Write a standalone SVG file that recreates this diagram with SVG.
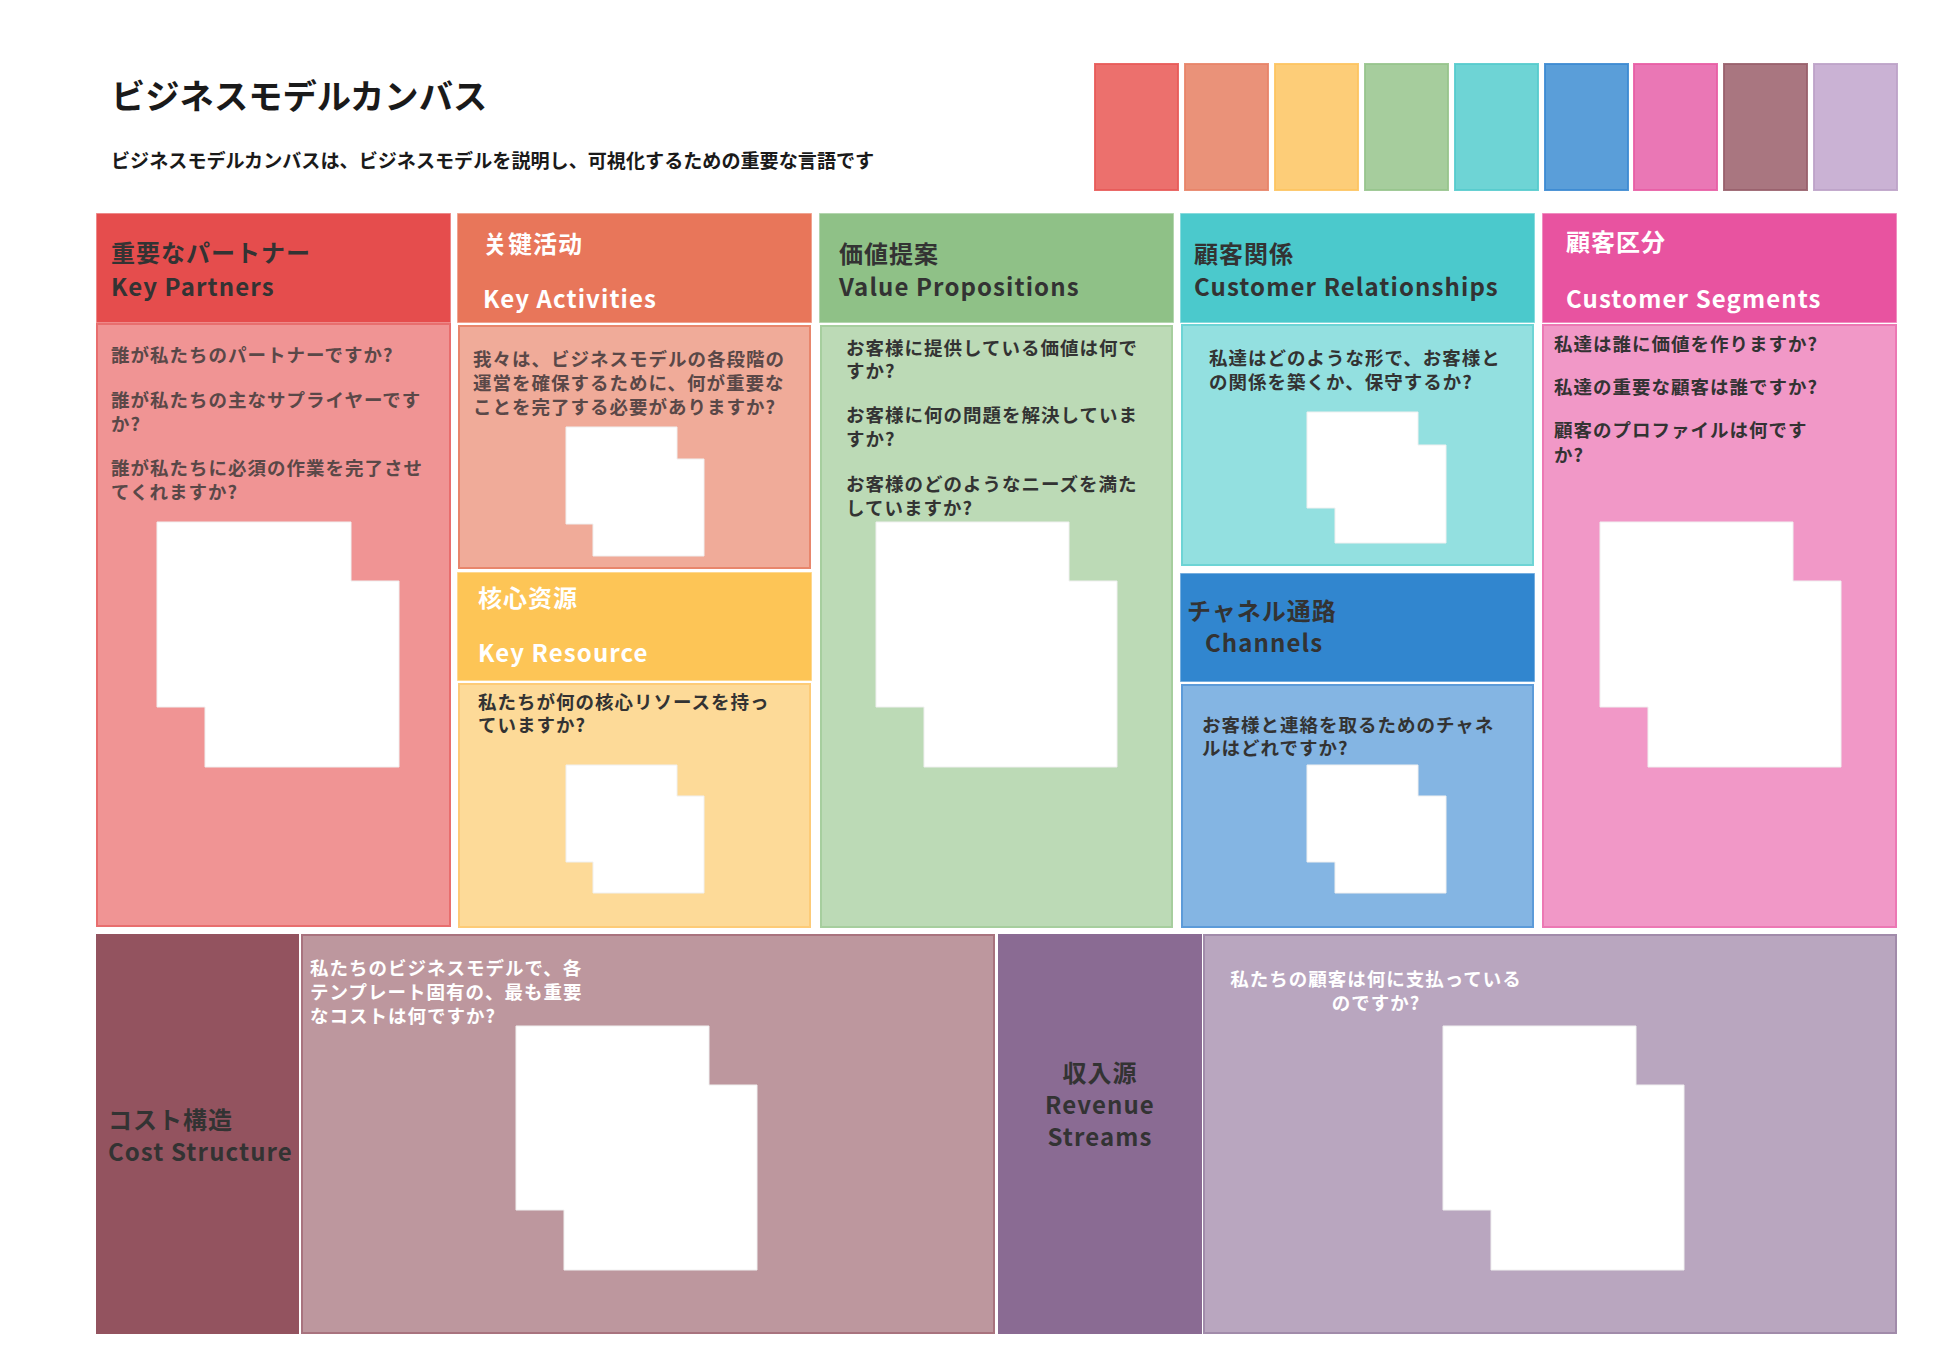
<svg xmlns="http://www.w3.org/2000/svg" width="1934" height="1370" viewBox="0 0 1934 1370">
<style>
text{font-family:"Noto Sans CJK JP","Noto Sans",sans-serif;font-weight:700;dominant-baseline:central}
.h{font-size:24px;letter-spacing:1px}
.l{font-size:24px;letter-spacing:1.1px}
.b{font-size:18.5px;letter-spacing:1px}
.dk{fill:#333333}
.gy{fill:#5a4848}
.wh{fill:#ffffff}
.ph{fill:#ffffff;stroke:#f0f0f0;stroke-width:1}
.hd{stroke:#ffffff;stroke-opacity:0.45;stroke-width:1.5}
.bd{stroke-width:2}
.sw{stroke-width:2;stroke-opacity:0.9}
</style>
<rect width="1934" height="1370" fill="#ffffff"/>

<g id="title">
<text x="111" y="94" font-size="34.3" style="fill:#1a1a1a">ビジネスモデルカンバス</text>
<text x="111" y="160" font-size="19.1" style="fill:#1a1a1a">ビジネスモデルカンバスは、ビジネスモデルを説明し、可視化するための重要な言語です</text>
</g>

<g id="swatches">
<rect class="sw" x="1095" y="64" width="83" height="126" fill="#EC706D" stroke="#E85A58"/>
<rect class="sw" x="1185" y="64" width="83" height="126" fill="#EA9279" stroke="#E88468"/>
<rect class="sw" x="1275" y="64" width="83" height="126" fill="#FDCD78" stroke="#FDC460"/>
<rect class="sw" x="1365" y="64" width="83" height="126" fill="#A6CD9D" stroke="#97C48D"/>
<rect class="sw" x="1455" y="64" width="83" height="126" fill="#6ED4D5" stroke="#55CBCD"/>
<rect class="sw" x="1545" y="64" width="83" height="126" fill="#5A9ED9" stroke="#3C8AD2"/>
<rect class="sw" x="1634" y="64" width="83" height="126" fill="#EA77B5" stroke="#E85DA4"/>
<rect class="sw" x="1724" y="64" width="83" height="126" fill="#A97680" stroke="#98606C"/>
<rect class="sw" x="1814" y="64" width="83" height="126" fill="#CAB2D4" stroke="#BCA2C8"/>
</g>

<g id="key-partners">
<rect class="hd" x="96" y="213" width="355" height="110" fill="#E54D4D"/>
<rect class="bd" x="97" y="324" width="353" height="602" fill="#F09494" stroke="#E86E6E"/>
<text class="h dk" x="111" y="251">重要なパートナー</text>
<text class="l dk" x="111" y="285">Key Partners</text>
<text class="b gy" x="111" y="354">誰が私たちのパートナーですか?</text>
<text class="b gy" x="111" y="399">誰が私たちの主なサプライヤーです</text>
<text class="b gy" x="111" y="423">か?</text>
<text class="b gy" x="111" y="467">誰が私たちに必須の作業を完了させ</text>
<text class="b gy" x="111" y="491">てくれますか?</text>
<path class="ph" d="M157,522 H351 V581 H399 V767 H205 V707 H157 Z"/>
</g>

<g id="key-activities">
<rect class="hd" x="457" y="213" width="355" height="110" fill="#E8765A"/>
<rect class="bd" x="459" y="326" width="351" height="242" fill="#F0AB99" stroke="#E8866C"/>
<text class="h wh" x="483" y="242">关键活动</text>
<text class="l wh" x="483" y="297">Key Activities</text>
<text class="b gy" x="473" y="358">我々は、ビジネスモデルの各段階の</text>
<text class="b gy" x="473" y="382">運営を確保するために、何が重要な</text>
<text class="b gy" x="473" y="406">ことを完了する必要がありますか?</text>
<path class="ph" d="M566,427 H677 V459 H704 V556 H593 V524 H566 Z"/>
</g>

<g id="key-resource">
<rect class="hd" x="457" y="572" width="355" height="109" fill="#FDC556"/>
<rect class="bd" x="459" y="684" width="351" height="243" fill="#FDDA98" stroke="#FDCB77"/>
<text class="h wh" x="478" y="596">核心资源</text>
<text class="l wh" x="478" y="651">Key Resource</text>
<text class="b dk" x="478" y="701">私たちが何の核心リソースを持っ</text>
<text class="b dk" x="478" y="724">ていますか?</text>
<path class="ph" d="M566,765 H677 V796 H704 V893 H593 V862 H566 Z"/>
</g>

<g id="value-propositions">
<rect class="hd" x="819" y="213" width="355" height="110" fill="#8FC187"/>
<rect class="bd" x="821" y="326" width="351" height="601" fill="#BCDAB6" stroke="#A6CE9E"/>
<text class="h dk" x="839" y="252">価値提案</text>
<text class="l dk" x="839" y="285">Value Propositions</text>
<text class="b dk" x="846" y="347">お客様に提供している価値は何で</text>
<text class="b dk" x="846" y="370">すか?</text>
<text class="b dk" x="846" y="414">お客様に何の問題を解決していま</text>
<text class="b dk" x="846" y="438">すか?</text>
<text class="b dk" x="846" y="483">お客様のどのようなニーズを満た</text>
<text class="b dk" x="846" y="507">していますか?</text>
<path class="ph" d="M876,522 H1069 V581 H1117 V767 H924 V707 H876 Z"/>
</g>

<g id="customer-relationships">
<rect class="hd" x="1180" y="213" width="355" height="110" fill="#4BC9CC"/>
<rect class="bd" x="1182" y="325" width="351" height="240" fill="#93E0E0" stroke="#6DD4D5"/>
<text class="h dk" x="1194" y="252">顧客関係</text>
<text class="l dk" x="1194" y="285">Customer Relationships</text>
<text class="b dk" x="1209" y="357">私達はどのような形で、お客様と</text>
<text class="b dk" x="1209" y="381">の関係を築くか、保守するか?</text>
<path class="ph" d="M1307,412 H1418 V445 H1446 V543 H1335 V508 H1307 Z"/>
</g>

<g id="channels">
<rect class="hd" x="1180" y="573" width="355" height="109" fill="#3186CF"/>
<rect class="bd" x="1182" y="685" width="351" height="242" fill="#84B5E3" stroke="#5C9BD9"/>
<text class="h dk" x="1187" y="609">チャネル通路</text>
<text class="l dk" x="1205" y="641">Channels</text>
<text class="b dk" x="1202" y="724">お客様と連絡を取るためのチャネ</text>
<text class="b dk" x="1202" y="747">ルはどれですか?</text>
<path class="ph" d="M1307,765 H1418 V796 H1446 V893 H1335 V862 H1307 Z"/>
</g>

<g id="customer-segments">
<rect class="hd" x="1542" y="213" width="355" height="110" fill="#E853A0"/>
<rect class="bd" x="1543" y="325" width="353" height="602" fill="#F198C7" stroke="#EC78B4"/>
<text class="h wh" x="1566" y="240">顧客区分</text>
<text class="l wh" x="1566" y="297">Customer Segments</text>
<text class="b dk" x="1554" y="343">私達は誰に価値を作りますか?</text>
<text class="b dk" x="1554" y="386">私達の重要な顧客は誰ですか?</text>
<text class="b dk" x="1554" y="429">顧客のプロファイルは何です</text>
<text class="b dk" x="1554" y="454">か?</text>
<path class="ph" d="M1600,522 H1793 V581 H1841 V767 H1648 V707 H1600 Z"/>
</g>

<g id="cost-structure">
<rect x="96" y="934" width="203" height="400" fill="#93535F"/>
<rect class="bd" x="302" y="935" width="692" height="398" fill="#BD979E" stroke="#A8737E"/>
<text class="h dk" x="108" y="1118">コスト構造</text>
<text class="l dk" x="108" y="1150">Cost Structure</text>
<text class="b wh" x="310" y="967">私たちのビジネスモデルで、各</text>
<text class="b wh" x="310" y="991">テンプレート固有の、最も重要</text>
<text class="b wh" x="310" y="1015">なコストは何ですか?</text>
<path class="ph" d="M516,1026 H709 V1085 H757 V1270 H564 V1210 H516 Z"/>
</g>

<g id="revenue-streams">
<rect x="998" y="934" width="204" height="400" fill="#8A6B93"/>
<rect class="bd" x="1204" y="935" width="692" height="398" fill="#B9A6BF" stroke="#A18BAA"/>
<text class="h dk" x="1100" y="1071" text-anchor="middle">収入源</text>
<text class="l dk" x="1100" y="1103" text-anchor="middle">Revenue</text>
<text class="l dk" x="1100" y="1135" text-anchor="middle">Streams</text>
<text class="b wh" x="1376" y="978" text-anchor="middle">私たちの顧客は何に支払っている</text>
<text class="b wh" x="1376" y="1002" text-anchor="middle">のですか?</text>
<path class="ph" d="M1443,1026 H1636 V1085 H1684 V1270 H1491 V1210 H1443 Z"/>
</g>

<g id="connectors"></g>
</svg>
